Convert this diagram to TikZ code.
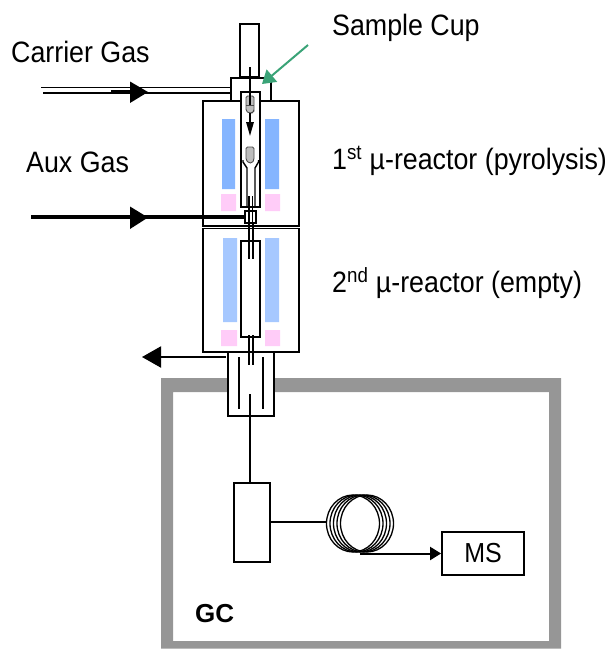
\documentclass[tikz,border=0pt]{standalone}
\usepackage{graphicx}
\usepackage{fontspec}
\setmainfont{Liberation Sans}
\usetikzlibrary{arrows.meta}
\definecolor{frameGray}{HTML}{969696}
\definecolor{blueA}{HTML}{85B5FF}
\definecolor{blueB}{HTML}{A6C8FF}
\definecolor{pinkA}{HTML}{FFCCF8}
\definecolor{cupGray}{HTML}{BDBDBD}
\definecolor{greenA}{HTML}{3AA377}
\newcommand{\tallText}[1]{\scalebox{1}[1.1]{#1}}
\tikzset{
  every picture/.style={x=1pt,y=-1pt},
  wall/.style={draw=black,line width=1.8pt},
  thin wall/.style={draw=black,line width=1.4pt},
  bigtip/.style={-{Triangle[length=19pt,width=21pt]}},
  label text/.style={font=\fontsize{26.8}{28}\selectfont,anchor=base west,inner sep=0pt,text=black},
  cup/.style={fill=cupGray,draw=black!70,line width=.9pt,rounded corners=1.5pt},
}
\begin{document}
\begin{tikzpicture}
\useasboundingbox (0,0) rectangle (608,649);
% oven
\fill[frameGray,even odd rule] (161,378) rectangle (561,648.5) (173,392) rectangle (549,641);
% top
\draw[wall,fill=white] (240,24) rectangle (259,77);
\draw[wall,fill=white] (231,78) rectangle (271,101);
% reactors
\draw[wall,fill=white] (203,101) rectangle (299,225.6);
\draw[wall,fill=white] (203,228.4) rectangle (299,352);
\fill[blueA] (222,119) rectangle (235,189) (265,119) rectangle (279,189);
\fill[pinkA] (221,194) rectangle (236,211) (265,194) rectangle (280,211);
\fill[blueB] (223,238) rectangle (237,322) (265,238) rectangle (279,322);
\fill[pinkA] (221,330) rectangle (237,346) (265,330) rectangle (280,346);
% first inner tube
\draw[wall,fill=white] (241,92) rectangle (260,207);
\draw[thin wall] (243,160) -- (243,162) -- (247,168) -- (247,207);
\draw[thin wall] (258.5,160) -- (258.5,162) -- (255,168) -- (255,207);
\draw[thin wall] (249,196) -- (249,228) (252.5,196) -- (252.5,228);
% cups
\draw[cup] (246,96) -- (246,111) -- (249,113) -- (252,113) -- (254,111) -- (254,96) -- cycle;
\draw[black!70,line width=.9pt] (246,105) -- (254,105);
\draw[cup] (246,147) -- (246,160) -- (249,163) -- (252,163) -- (254,160) -- (254,147) -- cycle;
\draw[line width=1.5pt] (250,67) -- (250,105);
\draw[line width=1.5pt,-{Triangle[length=14pt,width=7.5pt]}] (250,113) -- (250,136);
% second inner tube
\draw[wall,fill=white] (241,241) rectangle (260,337);
\draw[thin wall] (249,222) -- (249,259) (253,222) -- (253,259);
% transfer
\draw[wall,fill=white] (228,352) rectangle (274,416);
\draw[thin wall] (249,335) -- (249,365) (253,335) -- (253,365);
\draw[thin wall] (239,357) -- (239,409) (263,357) -- (263,409);
\draw[thin wall] (250,394) -- (250,483);
% injector and column
\draw[wall,fill=white] (234,483) rectangle (270,562);
\draw[line width=1.8pt] (270,522) -- (327,522);
\foreach \c in {353,356.5,360,363.5,367}
  \draw[line width=1.3pt] (\c,523.5) ellipse [x radius=26.5, y radius=28.5];
\node[wall,fill=white,minimum width=82pt,minimum height=43pt,inner sep=0pt,font=\fontsize{25}{26}\selectfont] (ms) at (483,553.5) {\tallText{MS}};
\coordinate (coilend) at (360,553.5);
\draw[line width=2pt,-{Triangle[length=11pt,width=13pt]}] (coilend) -- (ms.west);
% gases
\draw[line width=1.2pt] (41,87.5) -- (231,87.5);
\draw[line width=2pt] (43,92.5) -- (231,92.5);
\fill (111,89.5) rectangle (131,93.5);
\fill (130,81.5) -- (148,92) -- (130,103) -- cycle;
\coordinate (auxA) at (31,216.7); \coordinate (auxB) at (245,216.7);
\draw[line width=4pt] (auxA) -- (auxB);
\fill (130,206.5) -- (148,217.5) -- (130,229) -- cycle;
\draw[thin wall,fill=white] (245,211) rectangle (256,223);
\draw[thin wall] (249,211) -- (249,223) (252.5,211) -- (252.5,223);
\coordinate (exitA) at (226,357); \coordinate (exitB) at (142,357);
\draw[line width=2pt,bigtip] (exitA) -- (exitB);
\coordinate (sA) at (308,45); \coordinate (sB) at (262,84);
\draw[greenA,line width=2pt,-{Triangle[length=13pt,width=16pt]}] (sA) -- (sB);
% labels
\node[label text] (l1) at (11,62.5) {\tallText{Carrier Gas}};
\node[label text] (l2) at (26,172) {\tallText{Aux Gas}};
\node[label text] (l3) at (332,35) {\tallText{Sample Cup}};
\node[label text] (l4) at (332,169) {\tallText{1\textsuperscript{st} µ-reactor (pyrolysis)}};
\node[label text] (l5) at (332,292) {\tallText{2\textsuperscript{nd} µ-reactor (empty)}};
\node[label text,font=\fontsize{26}{28}\selectfont\bfseries] (l6) at (195,622.5) {GC};
\end{tikzpicture}
\end{document}
